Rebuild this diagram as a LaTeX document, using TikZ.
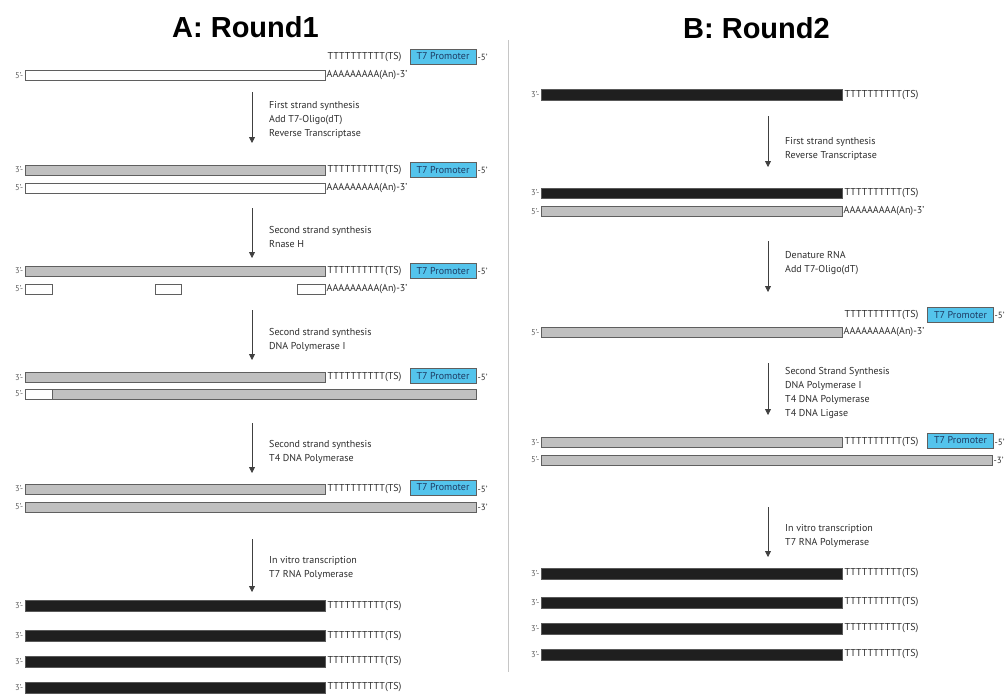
\documentclass[tikz,border=0pt]{standalone}
\usepackage{fontspec}
\setmainfont{PT Sans}
\newfontfamily\titlefont{Liberation Sans}
\usetikzlibrary{arrows.meta}
\definecolor{promo}{RGB}{84,196,236}
\definecolor{cdna}{RGB}{192,192,192}
\definecolor{edge}{RGB}{95,95,95}
\definecolor{txt}{RGB}{45,45,45}
\definecolor{promotxt}{RGB}{30,60,100}
\tikzset{
  bar/.style={draw=edge, line width=0.7pt},
  rnabar/.style={bar, fill=white},
  cdnabar/.style={bar, fill=cdna},
  arnabar/.style={bar, fill=black!88, draw=black!65},
  seq/.style={anchor=west, inner sep=0.5pt, font=\fontsize{10}{10}\selectfont, text=txt},
  endlbl/.style={anchor=east, inner sep=0.5pt, font=\fontsize{8.5}{8.5}\selectfont, text=gray!75!black},
  endlblr/.style={anchor=west, inner sep=0.5pt, font=\fontsize{9}{9}\selectfont, text=txt},
  promoter/.style={draw=edge, line width=0.7pt, fill=promo, minimum width=66pt, minimum height=15pt, inner sep=0pt, font=\fontsize{10}{10}\selectfont, text=promotxt},
  stepnote/.style={anchor=north west, align=left, font=\fontsize{10}{14}\selectfont, text=txt, inner sep=0pt},
  steparrow/.style={draw=black!75, line width=0.8pt, -{Triangle[length=6pt,width=6pt]}},
  titletext/.style={font=\titlefont\bfseries\fontsize{29}{29}\selectfont, text=black},
}
\begin{document}
\begin{tikzpicture}[x=1pt,y=-1pt]
\useasboundingbox[fill=white] (0,0) rectangle (1005,694);

% titles
\node[titletext] (titleA) at (245.5,27) {A: Round1};
\node[titletext] (titleB) at (756.5,28) {B: Round2};

% divider
\coordinate (divtop) at (508,40);
\coordinate (divbot) at (508,672);
\draw[gray!45, line width=0.8pt] (divtop) -- (divbot);

%================ LEFT PANEL =================
% Row 1
\node[seq] (l1t) at (327,57) {TTTTTTTTTT(TS)};
\node[promoter] (l1p) at (443,56.5) {T7 Promoter};
\node[endlblr] (l1pe) at (477,57) {-5'};
\node[endlbl] (l1b5) at (24,75.5) {5'-};
\draw[rnabar] (25,70.5) rectangle (325,80.5);
\node[seq] (l1a) at (326,75.5) {AAAAAAAAA(An)-3'};

\coordinate (la1s) at (252,92); \coordinate (la1e) at (252,143);
\draw[steparrow] (la1s) -- (la1e);
\node[stepnote] (ln1) at (269,101) {First strand synthesis\\Add T7-Oligo(dT)\\Reverse Transcriptase};

% Row 2
\node[endlbl] (l2t3) at (24,170) {3'-};
\draw[cdnabar] (25,165) rectangle (325,175);
\node[seq] (l2t) at (327,170) {TTTTTTTTTT(TS)};
\node[promoter] (l2p) at (443,170) {T7 Promoter};
\node[endlblr] (l2pe) at (477,170) {-5'};
\node[endlbl] (l2b5) at (24,188) {5'-};
\draw[rnabar] (25,183) rectangle (325,193);
\node[seq] (l2a) at (326,188) {AAAAAAAAA(An)-3'};

\coordinate (la2s) at (252,208); \coordinate (la2e) at (252,258);
\draw[steparrow] (la2s) -- (la2e);
\node[stepnote] (ln2) at (269,226) {Second strand synthesis\\Rnase H};

% Row 3
\node[endlbl] (l3t3) at (24,271) {3'-};
\draw[cdnabar] (25,266) rectangle (325,276);
\node[seq] (l3t) at (327,271) {TTTTTTTTTT(TS)};
\node[promoter] (l3p) at (443,271) {T7 Promoter};
\node[endlblr] (l3pe) at (477,271) {-5'};
\node[endlbl] (l3b5) at (24,289) {5'-};
\draw[rnabar] (25,284) rectangle (52,294);
\draw[rnabar] (155,284) rectangle (181,294);
\draw[rnabar] (297,284) rectangle (325,294);
\node[seq] (l3a) at (326,289) {AAAAAAAAA(An)-3'};

\coordinate (la3s) at (252,310); \coordinate (la3e) at (252,360);
\draw[steparrow] (la3s) -- (la3e);
\node[stepnote] (ln3) at (269,328) {Second strand synthesis\\DNA Polymerase I};

% Row 4
\node[endlbl] (l4t3) at (24,377.5) {3'-};
\draw[cdnabar] (25,372.5) rectangle (325,382.5);
\node[seq] (l4t) at (327,377.5) {TTTTTTTTTT(TS)};
\node[promoter] (l4p) at (443,376) {T7 Promoter};
\node[endlblr] (l4pe) at (477,377.5) {-5'};
\node[endlbl] (l4b5) at (24,394) {5'-};
\draw[cdnabar] (25,389) rectangle (476,399);
\draw[rnabar] (25,389) rectangle (52,399);

\coordinate (la4s) at (252,423); \coordinate (la4e) at (252,473);
\draw[steparrow] (la4s) -- (la4e);
\node[stepnote] (ln4) at (269,440) {Second strand synthesis\\T4 DNA Polymerase};

% Row 5
\node[endlbl] (l5t3) at (24,489) {3'-};
\draw[cdnabar] (25,484) rectangle (325,494);
\node[seq] (l5t) at (327,489) {TTTTTTTTTT(TS)};
\node[promoter] (l5p) at (443,487.5) {T7 Promoter};
\node[endlblr] (l5pe) at (477,489) {-5'};
\node[endlbl] (l5b5) at (24,507) {5'-};
\draw[cdnabar] (25,502) rectangle (476,512);
\node[endlblr] (l5be) at (477,507) {-3'};

\coordinate (la5s) at (252,539); \coordinate (la5e) at (252,592);
\draw[steparrow] (la5s) -- (la5e);
\node[stepnote] (ln5) at (269,556) {In vitro transcription\\T7 RNA Polymerase};

% aRNA products
\foreach \c/\n in {606/1,636/2,661.5/3,687.5/4}{
  \node[endlbl] (lr\n) at (24,\c) {3'-};
  \draw[arnabar] (25,\c-5.5) rectangle (325,\c+5.5);
  \node[seq] (lrt\n) at (327,\c) {TTTTTTTTTT(TS)};
}

%================ RIGHT PANEL =================
% Row 1
\node[endlbl] (r1t3) at (540,95) {3'-};
\draw[arnabar] (541,89.5) rectangle (842,100.5);
\node[seq] (r1t) at (844,95) {TTTTTTTTTT(TS)};

\coordinate (ra1s) at (768,116); \coordinate (ra1e) at (768,167);
\draw[steparrow] (ra1s) -- (ra1e);
\node[stepnote] (rn1) at (785,137) {First strand synthesis\\Reverse Transcriptase};

% Row 2
\node[endlbl] (r2t3) at (540,193) {3'-};
\draw[arnabar] (541,188) rectangle (842,198.5);
\node[seq] (r2t) at (844,193) {TTTTTTTTTT(TS)};
\node[endlbl] (r2b5) at (540,211.5) {5'-};
\draw[cdnabar] (541,206.5) rectangle (842,216.5);
\node[seq] (r2a) at (843,211.5) {AAAAAAAAA(An)-3'};

\coordinate (ra2s) at (768,241); \coordinate (ra2e) at (768,292);
\draw[steparrow] (ra2s) -- (ra2e);
\node[stepnote] (rn2) at (785,251) {Denature RNA\\Add T7-Oligo(dT)};

% Row 3
\node[seq] (r3t) at (844,315) {TTTTTTTTTT(TS)};
\node[promoter] (r3p) at (960.5,315) {T7 Promoter};
\node[endlblr] (r3pe) at (994,315) {-5'};
\node[endlbl] (r3b5) at (540,332.5) {5'-};
\draw[cdnabar] (541,327.5) rectangle (842,337.5);
\node[seq] (r3a) at (843,332.5) {AAAAAAAAA(An)-3'};

\coordinate (ra3s) at (768,363); \coordinate (ra3e) at (768,415);
\draw[steparrow] (ra3s) -- (ra3e);
\node[stepnote] (rn3) at (785,367) {Second Strand Synthesis\\DNA Polymerase I\\T4 DNA Polymerase\\T4 DNA Ligase};

% Row 4
\node[endlbl] (r4t3) at (540,442.5) {3'-};
\draw[cdnabar] (541,437.5) rectangle (842,447.5);
\node[seq] (r4t) at (844,442.5) {TTTTTTTTTT(TS)};
\node[promoter] (r4p) at (960.5,440.5) {T7 Promoter};
\node[endlblr] (r4pe) at (994,442.5) {-5'};
\node[endlbl] (r4b5) at (540,460) {5'-};
\draw[cdnabar] (541,455) rectangle (992,465);
\node[endlblr] (r4be) at (993,460) {-3'};

\coordinate (ra4s) at (768,507); \coordinate (ra4e) at (768,557);
\draw[steparrow] (ra4s) -- (ra4e);
\node[stepnote] (rn4) at (785,524) {In vitro transcription\\T7 RNA Polymerase};

% aRNA products
\foreach \c/\n in {573.5/1,602.5/2,628.5/3,654.5/4}{
  \node[endlbl] (rr\n) at (540,\c) {3'-};
  \draw[arnabar] (541,\c-5.5) rectangle (842,\c+5.5);
  \node[seq] (rrt\n) at (844,\c) {TTTTTTTTTT(TS)};
}
\end{tikzpicture}
\end{document}
